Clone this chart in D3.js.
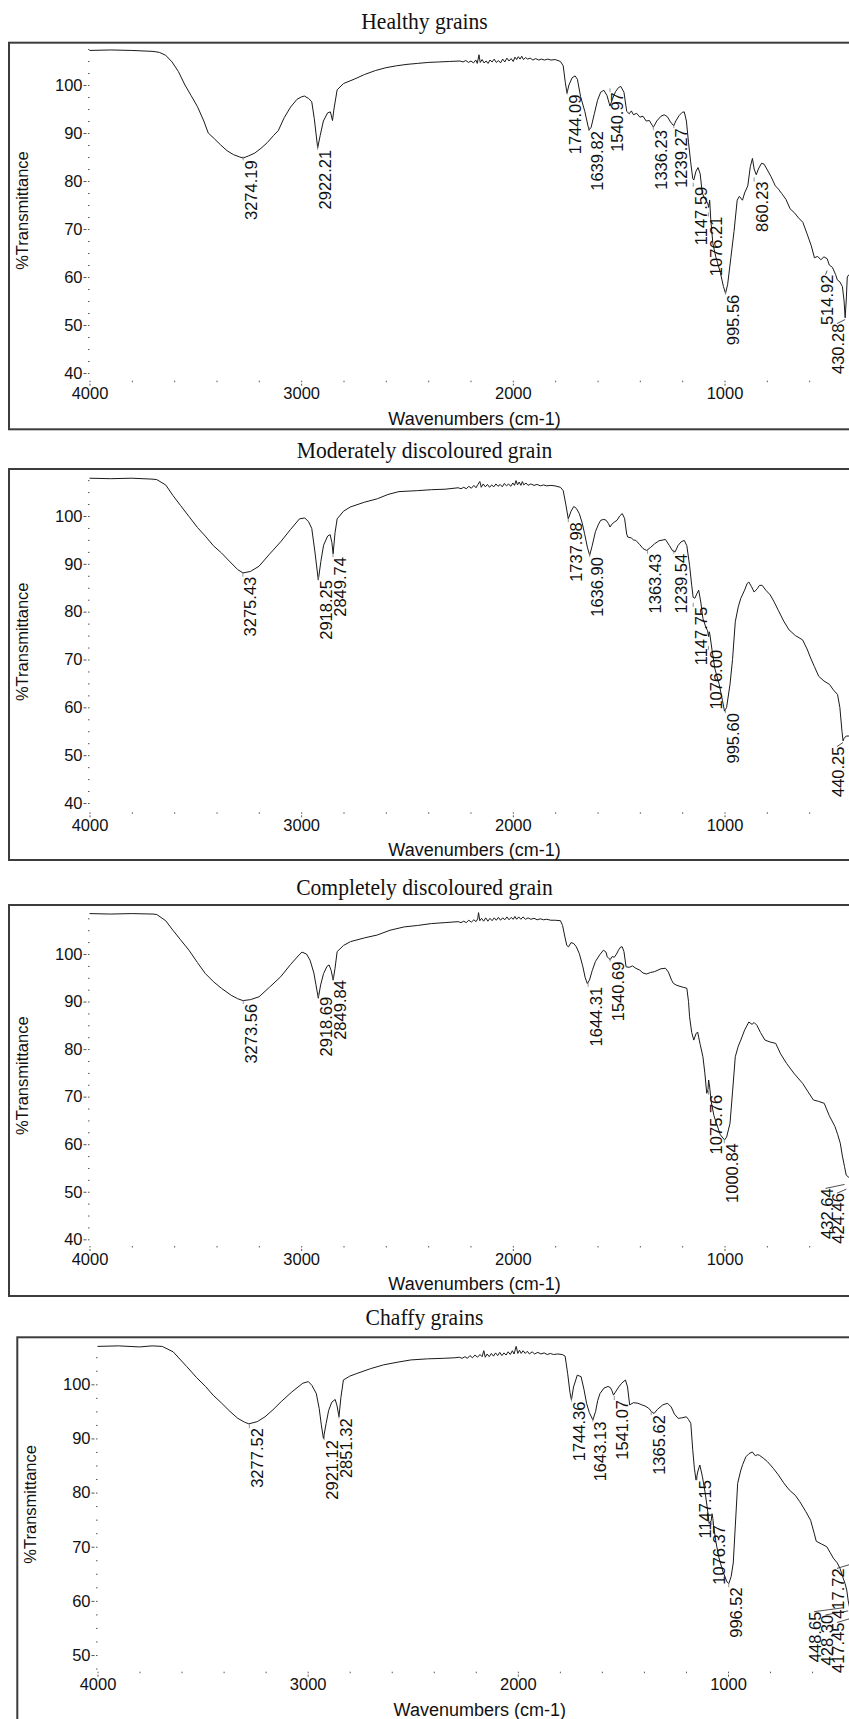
<!DOCTYPE html>
<html>
<head>
<meta charset="utf-8">
<script src="https://d3js.org/d3.v7.min.js"></script>
<style>
  body { margin:0; background:#fff; }
  svg { display:block; background:#fff; }
  text { font-family: "Liberation Sans", Arial, sans-serif; fill:#111; }
  .title { font-family: "Liberation Serif", "Times New Roman", serif; font-size:24px; }
</style>
</head>
<body>
<script>
var width = 849, height = 1719;

var titles = ["Healthy grains", "Moderately discoloured grain", "Completely discoloured grain", "Chaffy grains"];
var xTicks = [4000, 3000, 2000, 1000];
var yTicks = [40, 50, 60, 70, 80, 90, 100];

// spectra: [wavenumber, %T]
var healthy = [[4000,107.2],[3900,107.3],[3800,107.2],[3700,107.0],[3670,106.8],[3640,106.2],[3610,104.8],[3580,102.8],
  [3549,100],[3520,97.8],[3490,95.5],[3460,92.5],[3439,90],[3410,88.8],[3380,87.5],[3350,86.3],[3320,85.5],[3290,85.0],
  [3274,84.8],[3250,85.2],[3220,85.8],[3190,86.8],[3160,88.0],[3130,89.5],[3108,90.5],[3080,93.2],[3050,95.4],[3020,97.0],
  [3000,97.5],[2985,97.7],[2965,97.2],[2950,96.5],[2938,93],[2922,86.9],[2910,89.5],[2895,92.5],[2875,94.2],[2862,94.4],
  [2852,92.6],[2845,95],[2830,99.0],[2800,100.3],[2750,101.2],[2700,102.2],[2650,103.0],[2600,103.6],[2550,104.0],
  [2500,104.3],[2450,104.5],[2400,104.7],[2350,104.8],[2300,104.9],[2250,105.0],[2235,104.8],[2222,105.1],[2210,104.7],
  [2198,105.0],[2186,104.6],[2175,105.2],[2168,104.5],[2160,106.3],[2154,104.7],[2145,105.3],[2136,104.6],[2126,105.0],
  [2117,104.5],[2108,105.2],[2098,104.8],[2088,105.4],[2078,104.7],[2068,105.1],[2058,104.6],[2048,105.4],[2038,104.8],
  [2028,105.6],[2018,105.0],[2008,105.5],[1998,104.9],[1990,105.8],[1982,105.3],[1974,105.9],[1966,105.4],[1958,106.0],
  [1950,105.3],[1940,105.7],[1930,105.4],[1918,105.6],[1905,105.2],[1892,105.5],[1878,105.2],[1865,105.4],[1850,105.2],
  [1835,105.4],[1820,105.2],[1800,105.3],[1775,104.9],[1762,104],[1752,100.5],[1744,98.3],[1735,100],[1720,101.5],
  [1706,101.9],[1695,101.2],[1680,97.6],[1660,94.5],[1645,91.5],[1640,90.6],[1630,91.2],[1615,94.0],[1600,96.8],
  [1585,98.5],[1570,98.9],[1555,97.8],[1545,96.2],[1541,95.6],[1530,97],[1515,98.6],[1500,99.5],[1490,99.7],[1475,98.5],
  [1462,94.5],[1450,94.0],[1440,94.6],[1430,93.8],[1415,94.1],[1400,93.3],[1385,93.5],[1370,92.5],[1355,92.6],[1340,91.5],
  [1336,91.2],[1320,92.5],[1300,93.5],[1285,93.8],[1270,93.4],[1255,92.3],[1240,91.5],[1230,92.5],[1215,93.6],[1200,94.3],
  [1190,94.4],[1180,92.5],[1170,88],[1160,84],[1150,80.5],[1145,80.2],[1135,82],[1125,82.8],[1115,81.5],[1105,77.5],
  [1095,76.5],[1085,75.8],[1078,75.2],[1075,74.5],[1070,76],[1065,72],[1055,67],[1040,64],[1020,61],[1005,58],[995,56.6],
  [985,58.5],[970,64],[955,69.5],[940,76.0],[930,76.8],[915,76.0],[905,77.5],[890,79],[878,83],[868,84.7],[860,82.5],
  [850,81.3],[840,82.5],[825,83.7],[813,83.5],[800,82.5],[780,80.9],[760,79],[745,78.3],[730,77.4],[710,76.2],[690,74.2],
  [670,73.4],[650,72.3],[630,71.4],[610,69],[590,66.5],[575,64],[560,64.3],[545,63.6],[530,64.2],[515,63.8],[505,62.5],
  [490,62.0],[475,60.5],[467,59.4],[455,59],[443,58],[435,55],[430,51.5],[425,55],[420,60],[412,60.5]];

var moderate = [[4000,107.9],[3900,107.8],[3800,107.9],[3700,107.7],[3682,107.6],[3640,106.5],[3606,104.3],[3570,102.2],
  [3530,99.9],[3490,97.6],[3453,95.8],[3415,93.8],[3377,92.3],[3340,90.6],[3300,88.8],[3275,88.1],[3240,88.4],[3199,89.5],
  [3150,92.0],[3097,94.6],[3050,97.2],[3008,99.4],[2983,99.6],[2965,98.8],[2950,97.4],[2935,92.5],[2919,86.6],[2907,90.5],
  [2894,93.9],[2875,95.8],[2863,96.1],[2855,94.5],[2849,92.1],[2840,96.5],[2830,99.4],[2800,101.0],[2767,101.9],
  [2700,102.9],[2640,103.6],[2590,104.5],[2538,105.1],[2450,105.3],[2385,105.5],[2320,105.6],[2258,105.9],[2245,105.7],
  [2232,106.0],[2220,105.7],[2208,106.2],[2196,105.8],[2184,106.4],[2174,105.9],[2165,106.6],[2156,107.2],[2149,106.0],
  [2140,106.7],[2130,106.1],[2120,106.6],[2110,106.0],[2100,106.5],[2090,106.1],[2080,106.7],[2070,106.2],[2060,106.6],
  [2050,106.1],[2040,106.8],[2030,106.3],[2020,106.7],[2010,106.2],[2000,106.9],[1992,106.4],[1985,107.4],[1978,106.5],
  [1970,107.1],[1962,106.4],[1955,107.2],[1948,106.5],[1938,106.9],[1928,106.4],[1915,106.7],[1900,106.4],[1885,106.6],
  [1870,106.3],[1855,106.5],[1840,106.3],[1820,106.4],[1801,106.3],[1775,106.0],[1762,105.3],[1750,102.5],[1738,99.4],
  [1725,101.0],[1712,102.0],[1700,101.6],[1686,100.5],[1672,98.5],[1661,96.3],[1648,93.5],[1637,91.8],[1625,93.8],
  [1610,96.7],[1595,98.3],[1585,99.1],[1570,99.3],[1559,99.1],[1548,98.4],[1541,97.7],[1530,98.4],[1518,98.8],[1508,99.1],
  [1495,100.0],[1483,100.5],[1472,99.5],[1462,96.2],[1457,95.6],[1440,95.4],[1430,95.0],[1419,94.9],[1400,94.0],
  [1385,93.2],[1368,92.8],[1350,93.4],[1330,94.2],[1310,94.8],[1290,95.0],[1279,95.1],[1260,93.8],[1245,92.7],[1233,92.5],
  [1220,93.8],[1205,94.6],[1190,94.9],[1178,93.8],[1165,89.7],[1155,85.5],[1148,83.0],[1140,82.8],[1130,83.8],[1122,84.5],
  [1112,82.0],[1102,78.6],[1090,77.0],[1080,76.0],[1075,74.8],[1072,75.8],[1069,75.2],[1058,71.7],[1045,68.0],[1025,64.8],
  [1010,61.5],[1000,59.2],[990,60.0],[974,64.8],[962,70.0],[949,77.9],[935,81.0],[923,82.8],[905,84.5],[893,85.9],
  [885,86.2],[872,85.2],[860,84.1],[845,84.8],[835,85.5],[822,85.5],[805,84.5],[784,83.5],[765,82.0],[746,80.3],[720,78.0],
  [695,76.2],[665,75.0],[631,74.1],[610,72.2],[593,70.3],[575,68.5],[555,66.5],[530,65.5],[504,64.8],[485,63.6],[466,62.7],
  [455,60.0],[445,55],[440,53.0],[435,53.5],[425,54],[412,54]];

var complete = [[4000,108.5],[3900,108.4],[3800,108.5],[3700,108.4],[3682,108.3],[3640,107.0],[3606,105.0],[3570,103.0],
  [3530,100.8],[3490,98.2],[3453,95.9],[3415,94.2],[3377,92.8],[3330,91.3],[3300,90.6],[3275,90.2],[3240,90.4],[3199,91.0],
  [3150,93.0],[3097,95.2],[3050,97.8],[3010,99.8],[2996,100.4],[2975,100.0],[2958,98.7],[2940,96],[2930,93.5],[2919,90.7],
  [2908,93.5],[2894,95.9],[2878,97.4],[2868,97.7],[2858,96.5],[2849,94.5],[2840,97],[2830,100.5],[2800,101.8],[2767,102.6],
  [2700,103.4],[2640,104.0],[2580,105.0],[2513,105.7],[2450,106.0],[2385,106.4],[2320,106.6],[2258,106.8],[2245,106.6],
  [2232,106.9],[2220,106.6],[2208,107.1],[2196,106.7],[2184,107.2],[2174,106.8],[2166,107.4],[2162,108.7],[2156,107.0],
  [2148,107.5],[2138,106.9],[2128,107.6],[2118,106.9],[2108,107.5],[2098,107.0],[2088,107.6],[2078,107.1],[2068,107.7],
  [2058,107.1],[2048,107.6],[2038,107.2],[2028,107.8],[2018,107.2],[2008,107.7],[1998,107.3],[1990,107.9],[1982,107.3],
  [1972,107.8],[1962,107.3],[1952,107.8],[1940,107.3],[1928,107.6],[1915,107.3],[1900,107.5],[1885,107.2],[1870,107.4],
  [1855,107.2],[1840,107.3],[1820,107.1],[1800,107.1],[1775,107.0],[1765,106.0],[1754,103.6],[1745,101.8],[1737,101.5],
  [1725,102.4],[1712,102.2],[1700,101.5],[1686,100.1],[1670,97.5],[1658,95.0],[1648,93.8],[1638,94.5],[1625,96.5],
  [1610,98.4],[1590,99.8],[1572,100.8],[1560,100.4],[1554,99.4],[1545,99.0],[1540,98.8],[1530,99.5],[1521,99.3],
  [1510,100.0],[1501,100.8],[1490,101.5],[1483,101.5],[1475,100.5],[1465,97.3],[1450,97.2],[1435,97.5],[1419,97.0],
  [1400,96.6],[1385,96.0],[1368,95.8],[1350,96.1],[1330,96.3],[1300,96.9],[1279,97.0],[1265,96.2],[1250,94.5],[1241,93.8],
  [1225,93.4],[1210,93.2],[1195,93.0],[1178,92.8],[1170,90],[1165,86.8],[1155,83.5],[1145,81.9],[1135,83.2],[1127,83.6],
  [1115,81.0],[1102,78.4],[1093,75.0],[1084,70.7],[1078,71.5],[1075,73.5],[1070,72.0],[1063,69.0],[1050,66.0],[1038,64.4],
  [1020,62.0],[1000,60.9],[990,61.5],[974,64.4],[962,71.0],[949,78.4],[935,80.6],[923,81.9],[905,84.0],[885,85.7],
  [870,85.2],[860,85.6],[847,85.0],[830,83.5],[809,81.9],[785,81.5],[758,81.2],[735,79.0],[707,77.0],[670,74.8],[631,72.8],
  [605,71.0],[580,69.3],[555,69.0],[529,68.6],[505,66.0],[478,63.7],[465,62.0],[453,60.2],[443,57.5],[433,55.3],[425,53.5],
  [412,53]];

var chaffy = [[4000,107.0],[3900,107.1],[3800,106.9],[3740,107.1],[3692,107.0],[3640,106.0],[3576,103.3],[3530,101.3],
  [3486,99.6],[3450,98.0],[3409,96.5],[3370,95.0],[3332,93.7],[3300,93.0],[3280,92.7],[3240,93.1],[3203,94.0],[3165,95.3],
  [3126,96.8],[3075,98.6],[3023,100.2],[2997,100.5],[2980,99.8],[2959,98.3],[2945,95.5],[2935,92.5],[2925,90.0],[2912,92.8],
  [2900,95.2],[2885,96.7],[2869,97.2],[2860,96.0],[2851,94.0],[2842,97.5],[2830,100.8],[2800,101.5],[2766,102.0],
  [2700,102.9],[2638,103.6],[2570,104.1],[2509,104.5],[2430,104.7],[2355,104.8],[2300,104.9],[2278,105.0],[2265,104.8],
  [2252,105.1],[2240,104.8],[2228,105.3],[2216,104.9],[2204,105.4],[2192,105.0],[2180,105.5],[2170,105.1],[2162,106.2],
  [2155,105.0],[2146,105.6],[2136,105.1],[2126,105.7],[2116,105.2],[2106,105.8],[2096,105.3],[2086,105.9],[2076,105.3],
  [2066,105.8],[2056,105.4],[2046,106.0],[2036,105.5],[2026,106.2],[2018,105.6],[2008,107.0],[2000,105.7],[1992,106.3],
  [1984,105.7],[1975,106.2],[1965,105.7],[1955,106.1],[1945,105.6],[1932,106.0],[1920,105.6],[1905,105.9],[1890,105.6],
  [1875,105.8],[1860,105.5],[1845,105.7],[1830,105.5],[1810,105.6],[1789,105.5],[1775,105.2],[1763,102.0],[1752,98.5],
  [1745,97.1],[1735,99.5],[1717,101.7],[1699,101.4],[1685,99.0],[1673,96.5],[1660,94.8],[1643,93.4],[1630,95.0],
  [1620,97.0],[1609,98.3],[1590,99.3],[1571,99.6],[1560,99.4],[1552,98.8],[1545,98.0],[1535,98.6],[1520,99.5],[1506,100.2],
  [1488,100.8],[1478,99.5],[1468,96.2],[1450,96.6],[1429,96.5],[1410,96.2],[1395,96.0],[1378,95.6],[1365,95.0],
  [1352,94.6],[1335,95.4],[1310,96.2],[1288,96.5],[1270,95.8],[1255,94.5],[1237,93.7],[1220,93.8],[1198,94.0],[1188,93.5],
  [1177,92.8],[1168,88],[1160,84.5],[1152,82.3],[1143,84.0],[1134,85.1],[1122,83.0],[1108,79.8],[1098,77.0],[1090,74.3],
  [1080,74.8],[1076,76.1],[1072,75.2],[1069,74.0],[1058,71.0],[1044,68.1],[1025,65.5],[1005,63.5],[996,63.2],[985,64.5],
  [975,67.0],[965,74.0],[954,81.7],[940,84.0],[930,85.2],[915,86.6],[900,87.2],[884,87.5],[870,86.8],[860,87.0],[851,86.9],
  [830,86.3],[812,85.7],[785,84.5],[761,83.3],[735,81.8],[709,80.5],[680,79.5],[658,78.3],[630,76.5],[607,74.9],[590,72.5],
  [580,71],[555,70.5],[530,70],[515,69],[499,67.9],[480,67],[467,66],[455,64.5],[443,63.2],[435,62],[428,60],[420,58.5],
  [412,57.5]];

// labelled peaks: [wavenumber, %T at the label top]
var healthyPeaks = [[3274.19,84.3],[2922.21,86.5],[1744.09,98.0],[1639.82,90.4],[1540.97,98.5],[1336.23,90.6],
  [1239.27,91.0],[1147.59,78.8],[1076.21,72.6],[995.56,56.3],[860.23,79.9],[514.92,60.5],[430.28,50.3]];
var moderatePeaks = [[3275.43,87.3],[2918.25,86.6],[2849.74,91.4],[1737.98,98.7],[1636.90,91.4],[1363.43,92.1],
  [1239.54,92.1],[1147.75,81.0],[1076.00,72.0],[995.60,58.8],[440.25,51.8]];
var completePeaks = [[3273.56,89.5],[2918.69,91.0],[2849.84,94.5],[1644.31,93.1],[1540.69,98.4],[1075.76,70.4],
  [1000.84,60.2],[432.64,50.7],[424.46,49.7]];
var chaffyPeaks = [[3277.52,91.9],[2921.12,89.7],[2851.32,93.7],[1744.36,96.8],[1643.13,93.1],[1541.07,97.1],
  [1365.62,94.3],[1147.15,82.3],[1076.37,74.0],[996.52,62.5],[448.65,58.0],[428.30,57.4],[417.72,66.0],[417.45,56.0]];

// page layout of each panel, in pixels
var layout = [
  {left:9,    frameTop:42.7,   frameBottom:429.3, titleY:28.5, x4000:89.5, x1000:724.5, yLoVal:40, yLo:373,    y100:85,     axisY:380.7,  topY:48.3},
  {left:9,    frameTop:469,    frameBottom:860,   titleY:458,  x4000:89.5, x1000:724.5, yLoVal:40, yLo:803,    y100:516,    axisY:812.3,  topY:479.3},
  {left:9,    frameTop:905,    frameBottom:1296,  titleY:895,  x4000:89.5, x1000:724.5, yLoVal:40, yLo:1239.3, y100:954,    axisY:1246,   topY:913.3},
  {left:17.3, frameTop:1337.3, frameBottom:1722,  titleY:1325, x4000:97.5, x1000:728,   yLoVal:50, yLo:1655,   y100:1384.3, axisY:1671.7, topY:1345}
];
var spectra = [healthy, moderate, complete, chaffy];
var peakSets = [healthyPeaks, moderatePeaks, completePeaks, chaffyPeaks];

var svg = d3.select("body").append("svg")
  .attr("width", width)
  .attr("height", height);

layout.forEach(function(L, i) {
  var g = svg.append("g").attr("class", "panel");

  var x = d3.scaleLinear().domain([4000, 1000]).range([L.x4000, L.x1000]);
  var y = d3.scaleLinear().domain([L.yLoVal, 100]).range([L.yLo, L.y100]);
  var yBottom = y.invert(L.axisY), yTop = y.invert(L.topY);
  var xMaxLabel = width - 5;   // keep rotated labels (incl. descent) on the page

  // frame (right side runs off the page)
  g.append("rect")
    .attr("x", L.left).attr("y", L.frameTop)
    .attr("width", width - L.left + 20).attr("height", L.frameBottom - L.frameTop)
    .attr("fill", "none").attr("stroke", "#3c3c3c").attr("stroke-width", 2);

  g.append("text").attr("class", "title")
    .attr("text-anchor", "middle")
    .attr("transform", "translate(424.5," + L.titleY + ") scale(0.9,1)")
    .text(titles[i]);

  // y axis: dotted minor ticks, small dash + label at majors
  var minorY = d3.range(Math.ceil(yBottom / 2.5) * 2.5, yTop + 0.2, 2.5);
  g.append("g").attr("transform", "translate(" + L.x4000 + ",0)")
    .call(d3.axisLeft(y).tickValues(minorY).tickSize(1.5).tickFormat(""))
    .call(function(s) { s.select(".domain").remove(); s.selectAll("line").attr("stroke", "#555"); });

  var majorY = g.append("g").attr("transform", "translate(" + L.x4000 + ",0)")
    .call(d3.axisLeft(y).tickValues(yTicks.filter(function(v) { return v >= yBottom; })).tickSize(0).tickPadding(7));
  majorY.select(".domain").remove();
  majorY.selectAll(".tick line").attr("x1", -6).attr("x2", -3).attr("stroke", "#555");
  majorY.selectAll(".tick text").attr("font-size", 16.5).attr("fill", "#111").attr("font-family", null);

  // x axis: dots every 200, labels at thousands
  var minorX = d3.range(4000, 399, -200);
  g.append("g").attr("transform", "translate(0," + L.axisY + ")")
    .call(d3.axisBottom(x).tickValues(minorX).tickSize(1.5).tickFormat(""))
    .call(function(s) { s.select(".domain").remove(); s.selectAll("line").attr("stroke", "#555"); });

  var majorX = g.append("g").attr("transform", "translate(0," + L.axisY + ")")
    .call(d3.axisBottom(x).tickValues(xTicks).tickSize(0).tickPadding(7).tickFormat(d3.format("d")));
  majorX.select(".domain").remove();
  majorX.selectAll(".tick line").attr("y1", 3).attr("y2", 5).attr("stroke", "#555");
  majorX.selectAll(".tick text").attr("font-size", 16.5).attr("fill", "#111").attr("font-family", null);

  g.append("text")
    .attr("text-anchor", "middle")
    .attr("x", (L.x4000 + x(400)) / 2 + 4)
    .attr("y", L.axisY + 44)
    .attr("font-size", 18)
    .text("Wavenumbers (cm-1)");

  g.append("text")
    .attr("text-anchor", "middle")
    .attr("transform", "translate(" + (L.x4000 - 61.5) + "," + ((L.topY + L.axisY) / 2 - 4) + ") rotate(-90)")
    .attr("font-size", 16.5)
    .text("%Transmittance");

  // spectrum
  var line = d3.line()
    .x(function(d) { return x(d[0]); })
    .y(function(d) { return y(d[1]); });

  g.append("path")
    .attr("d", line(spectra[i]))
    .attr("fill", "none")
    .attr("stroke", "#1a1a1a")
    .attr("stroke-width", 1)
    .attr("stroke-linejoin", "round");

  // peak labels, placed right to left, nudged left when crowded or at the page edge
  var placed = [];
  var peaks = peakSets[i].slice().sort(function(a, b) { return a[0] - b[0]; });
  peaks.forEach(function(p) {
    var px = x(p[0]), ty = y(p[1]);
    var natural = px + 13.5;
    var lx = Math.min(natural, xMaxLabel);
    var t = g.append("text")
      .attr("text-anchor", "end")
      .attr("font-size", 16.5)
      .text(p[0].toFixed(2));
    var len = t.node().getComputedTextLength();
    var moved = true;
    while (moved) {
      moved = false;
      placed.forEach(function(q) {
        var overlapY = ty < q.ty + q.len && q.ty < ty + len;
        if (overlapY && Math.abs(q.lx - lx) < 11.5) { lx = q.lx - 11.5; moved = true; }
      });
    }
    placed.push({lx: lx, ty: ty, len: len});
    t.attr("transform", "translate(" + lx + "," + ty + ") rotate(-90)");

    if (natural - lx > 3) {
      g.append("line")
        .attr("x1", px).attr("y1", ty - 4)
        .attr("x2", lx - 7).attr("y2", ty)
        .attr("stroke", "#222").attr("stroke-width", 0.8);
    } else {
      g.append("line")
        .attr("x1", px).attr("y1", ty - 4)
        .attr("x2", px).attr("y2", ty)
        .attr("stroke", "#777").attr("stroke-width", 0.8);
    }
  });
});
</script>
</body>
</html>
